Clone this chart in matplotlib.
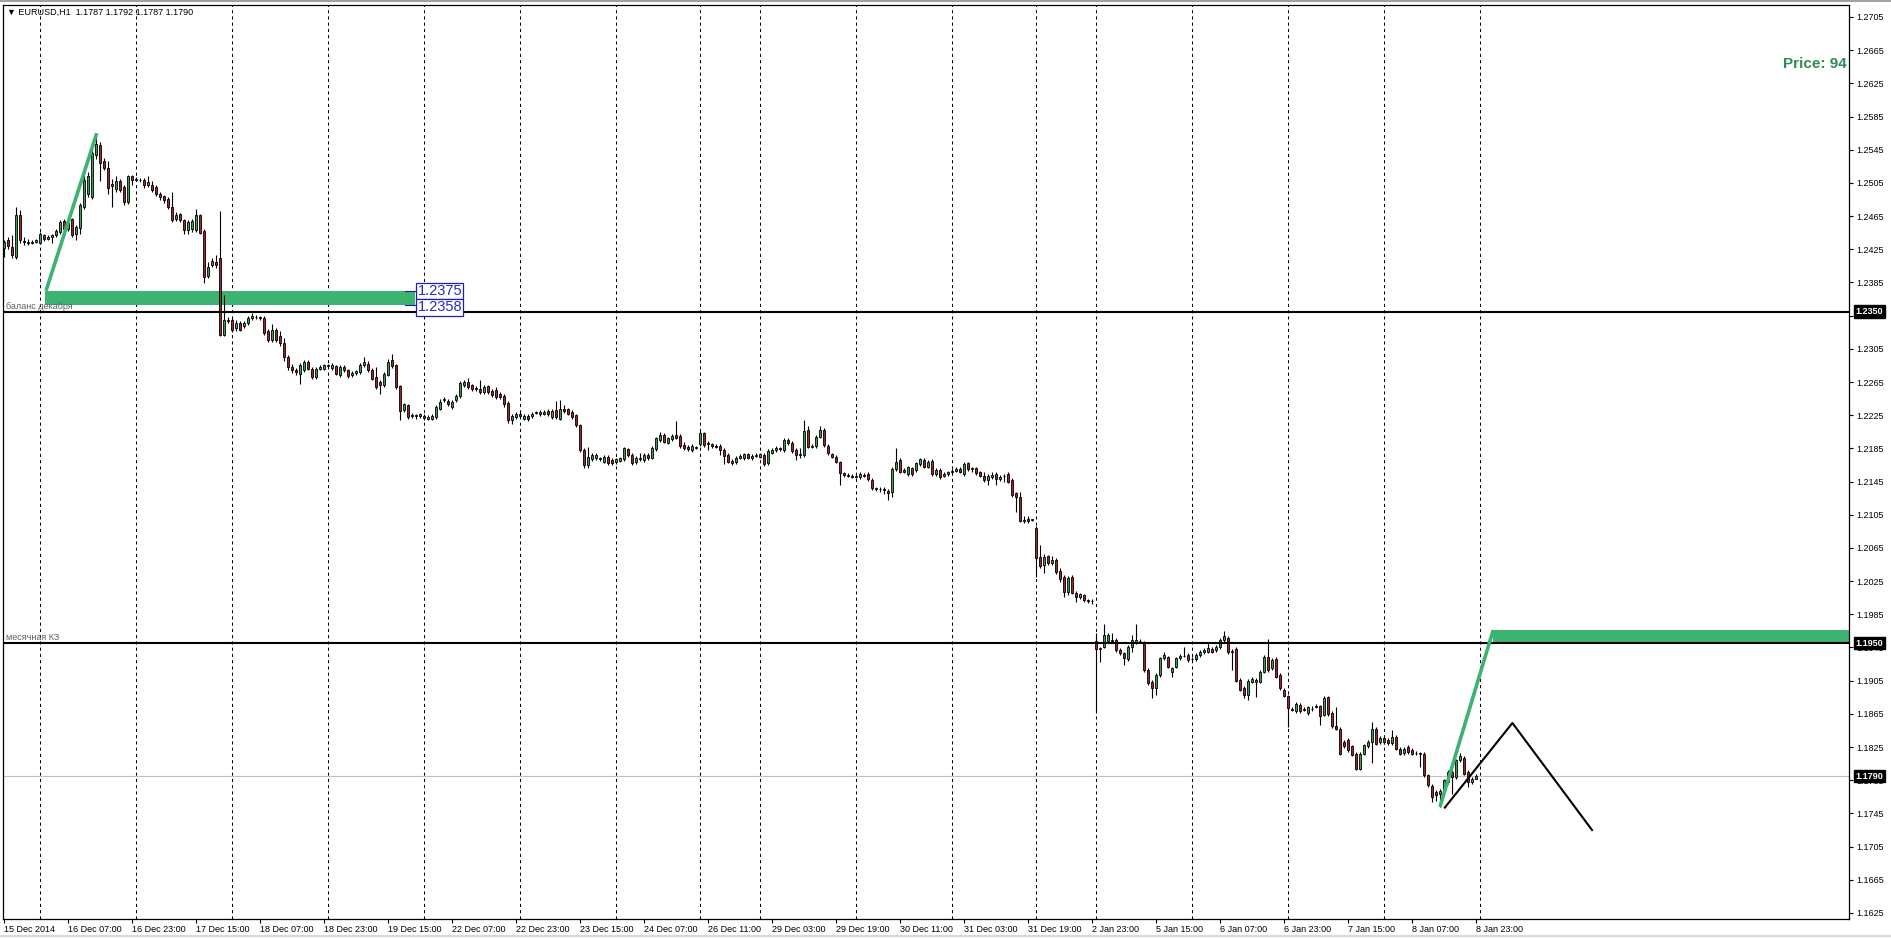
import matplotlib
matplotlib.use('Agg')
import matplotlib.pyplot as plt
from matplotlib.patches import Rectangle
from matplotlib.transforms import blended_transform_factory
import numpy as np

plt.rcParams['font.family'] = ['Liberation Sans', 'DejaVu Sans']

# ---------------- data (EURUSD H1, bar index = position on chart) ----------------
opens = [
1.2426,1.2436,1.2428,1.2416,1.2466,1.2435,1.2434,1.2433,1.2434,1.2433,
1.2442,1.2438,1.2440,1.2442,1.2446,1.2459,1.2449,1.2461,1.2443,1.2451,
1.2476,1.2492,1.2488,1.2539,1.2551,1.2531,1.2523,1.2504,1.2498,1.2507,
1.2500,1.2482,1.2513,1.2509,1.2509,1.2509,1.2502,1.2502,1.2500,1.2492,
1.2489,1.2486,1.2476,1.2461,1.2467,1.2460,1.2448,1.2449,1.2448,1.2466,
1.2447,1.2393,1.2406,1.2410,1.2415,1.2322,1.2340,1.2340,1.2330,1.2336,
1.2332,1.2336,1.2342,1.2343,1.2343,1.2342,1.2326,1.2316,1.2328,1.2320,
1.2312,1.2295,1.2283,1.2279,1.2275,1.2279,1.2289,1.2281,1.2271,1.2281,
1.2281,1.2285,1.2282,1.2284,1.2273,1.2283,1.2279,1.2273,1.2276,1.2277,
1.2285,1.2287,1.2280,1.2271,1.2265,1.2261,1.2274,1.2291,1.2285,1.2260,
1.2231,1.2237,1.2224,1.2225,1.2224,1.2224,1.2221,1.2221,1.2223,1.2233,
1.2243,1.2242,1.2235,1.2243,1.2248,1.2261,1.2265,1.2261,1.2256,1.2257,
1.2253,1.2260,1.2254,1.2255,1.2251,1.2248,1.2240,1.2219,1.2223,1.2227,
1.2221,1.2224,1.2224,1.2228,1.2226,1.2227,1.2230,1.2223,1.2231,1.2221,
1.2233,1.2232,1.2229,1.2225,1.2213,1.2183,1.2165,1.2172,1.2173,1.2172,
1.2169,1.2175,1.2171,1.2168,1.2170,1.2172,1.2184,1.2177,1.2168,1.2172,
1.2171,1.2177,1.2174,1.2184,1.2195,1.2201,1.2192,1.2196,1.2201,1.2200,
1.2189,1.2187,1.2183,1.2186,1.2190,1.2203,1.2191,1.2190,1.2188,1.2188,
1.2183,1.2177,1.2170,1.2168,1.2174,1.2173,1.2178,1.2173,1.2176,1.2175,
1.2177,1.2167,1.2180,1.2183,1.2185,1.2183,1.2195,1.2192,1.2183,1.2177,
1.2177,1.2207,1.2187,1.2188,1.2199,1.2207,1.2188,1.2178,1.2175,1.2168,
1.2155,1.2153,1.2152,1.2151,1.2150,1.2153,1.2154,1.2147,1.2137,1.2136,
1.2136,1.2134,1.2133,1.2160,1.2171,1.2159,1.2154,1.2161,1.2159,1.2166,
1.2171,1.2163,1.2170,1.2154,1.2159,1.2152,1.2154,1.2156,1.2158,1.2160,
1.2154,1.2167,1.2160,1.2161,1.2156,1.2152,1.2147,1.2150,1.2154,1.2148,
1.2152,1.2154,1.2147,1.2131,1.2126,1.2098,1.2100,1.2099,1.2089,1.2054,
1.2045,1.2055,1.2047,1.2051,1.2037,1.2030,1.2012,1.2030,1.2011,1.2006,
1.2008,1.2002,1.2001,1.1953,1.1943,1.1946,1.1953,1.1954,1.1954,1.1942,
1.1938,1.1931,1.1946,1.1951,1.1953,1.1951,1.1918,1.1904,1.1896,1.1912,
1.1932,1.1933,1.1916,1.1922,1.1932,1.1935,1.1936,1.1931,1.1931,1.1936,
1.1939,1.1940,1.1943,1.1942,1.1945,1.1954,1.1957,1.1941,1.1943,1.1906,
1.1896,1.1888,1.1904,1.1903,1.1904,1.1916,1.1933,1.1920,1.1931,1.1912,
1.1894,1.1886,1.1871,1.1868,1.1876,1.1870,1.1866,1.1871,1.1873,1.1874,
1.1864,1.1885,1.1866,1.1850,1.1847,1.1831,1.1834,1.1826,1.1817,1.1799,
1.1817,1.1826,1.1831,1.1847,1.1831,1.1836,1.1834,1.1830,1.1837,1.1823,
1.1818,1.1825,1.1822,1.1818,1.1817,1.1817,1.1791,1.1778,1.1771,1.1769,
1.1772,1.1783,1.1795,1.1789,1.1809,1.1812,1.1795,1.1783,1.1787]

highs = [
1.2436,1.2440,1.2442,1.2476,1.2472,1.2440,1.2437,1.2436,1.2438,1.2446,
1.2444,1.2442,1.2444,1.2449,1.2460,1.2461,1.2462,1.2463,1.2454,1.2481,
1.2517,1.2518,1.2545,1.2561,1.2554,1.2535,1.2531,1.2510,1.2513,1.2510,
1.2503,1.2515,1.2515,1.2512,1.2511,1.2511,1.2513,1.2507,1.2502,1.2494,
1.2491,1.2488,1.2494,1.2470,1.2469,1.2462,1.2460,1.2461,1.2473,1.2468,
1.2449,1.2410,1.2414,1.2418,1.2471,1.2370,1.2343,1.2342,1.2340,1.2338,
1.2338,1.2344,1.2348,1.2346,1.2345,1.2344,1.2329,1.2335,1.2330,1.2327,
1.2318,1.2298,1.2287,1.2282,1.2288,1.2292,1.2291,1.2283,1.2283,1.2286,
1.2287,1.2287,1.2288,1.2286,1.2285,1.2285,1.2281,1.2278,1.2280,1.2288,
1.2295,1.2290,1.2282,1.2283,1.2267,1.2277,1.2293,1.2299,1.2287,1.2262,
1.2240,1.2239,1.2228,1.2227,1.2228,1.2226,1.2225,1.2226,1.2237,1.2245,
1.2247,1.2244,1.2243,1.2250,1.2266,1.2268,1.2270,1.2263,1.2260,1.2267,
1.2262,1.2262,1.2256,1.2259,1.2253,1.2250,1.2242,1.2226,1.2229,1.2229,
1.2226,1.2226,1.2229,1.2230,1.2231,1.2231,1.2232,1.2232,1.2242,1.2243,
1.2237,1.2234,1.2231,1.2227,1.2215,1.2185,1.2187,1.2179,1.2179,1.2175,
1.2177,1.2177,1.2173,1.2174,1.2175,1.2187,1.2186,1.2179,1.2176,1.2180,
1.2179,1.2179,1.2188,1.2199,1.2205,1.2203,1.2199,1.2202,1.2218,1.2202,
1.2193,1.2189,1.2190,1.2188,1.2206,1.2205,1.2194,1.2192,1.2190,1.2190,
1.2185,1.2179,1.2172,1.2176,1.2178,1.2180,1.2180,1.2178,1.2179,1.2180,
1.2179,1.2184,1.2185,1.2188,1.2187,1.2197,1.2197,1.2194,1.2185,1.2186,
1.2219,1.2212,1.2190,1.2201,1.2212,1.2209,1.2190,1.2180,1.2177,1.2170,
1.2157,1.2155,1.2154,1.2154,1.2156,1.2155,1.2156,1.2149,1.2139,1.2138,
1.2138,1.2136,1.2162,1.2185,1.2173,1.2161,1.2164,1.2163,1.2169,1.2174,
1.2173,1.2171,1.2172,1.2161,1.2161,1.2156,1.2158,1.2160,1.2162,1.2162,
1.2168,1.2169,1.2163,1.2163,1.2158,1.2157,1.2154,1.2157,1.2156,1.2153,
1.2154,1.2156,1.2149,1.2133,1.2133,1.2103,1.2103,1.2100,1.2091,1.2068,
1.2058,1.2057,1.2055,1.2053,1.2041,1.2032,1.2031,1.2032,1.2013,1.2011,
1.2010,1.2004,1.2003,1.1962,1.1946,1.1973,1.1962,1.1962,1.1956,1.1944,
1.1940,1.1948,1.1960,1.1973,1.1955,1.1953,1.1920,1.1906,1.1914,1.1934,
1.1940,1.1935,1.1922,1.1934,1.1937,1.1946,1.1938,1.1933,1.1938,1.1942,
1.1944,1.1950,1.1945,1.1948,1.1956,1.1965,1.1959,1.1943,1.1945,1.1908,
1.1898,1.1907,1.1909,1.1908,1.1918,1.1936,1.1955,1.1932,1.1933,1.1914,
1.1896,1.1888,1.1873,1.1879,1.1878,1.1873,1.1875,1.1874,1.1877,1.1876,
1.1887,1.1887,1.1868,1.1873,1.1849,1.1833,1.1836,1.1828,1.1819,1.1819,
1.1829,1.1833,1.1855,1.1849,1.1838,1.1838,1.1836,1.1845,1.1839,1.1825,
1.1825,1.1827,1.1824,1.1820,1.1819,1.1819,1.1793,1.1780,1.1773,1.1774,
1.1787,1.1797,1.1797,1.1811,1.1818,1.1814,1.1797,1.1789,1.1792]

lows = [
1.2416,1.2425,1.2414,1.2413,1.2432,1.2430,1.2430,1.2431,1.2432,1.2431,
1.2435,1.2436,1.2432,1.2440,1.2444,1.2448,1.2447,1.2440,1.2436,1.2443,
1.2474,1.2488,1.2486,1.2534,1.2507,1.2520,1.2492,1.2476,1.2494,1.2494,
1.2478,1.2480,1.2503,1.2507,1.2506,1.2499,1.2500,1.2494,1.2489,1.2485,
1.2481,1.2474,1.2458,1.2459,1.2458,1.2444,1.2444,1.2446,1.2446,1.2443,
1.2384,1.2390,1.2404,1.2403,1.2320,1.2320,1.2336,1.2325,1.2327,1.2326,
1.2330,1.2334,1.2340,1.2341,1.2340,1.2322,1.2313,1.2313,1.2313,1.2309,
1.2290,1.2279,1.2276,1.2273,1.2263,1.2277,1.2279,1.2269,1.2269,1.2279,
1.2279,1.2282,1.2280,1.2273,1.2271,1.2277,1.2270,1.2271,1.2274,1.2275,
1.2283,1.2277,1.2267,1.2257,1.2250,1.2259,1.2272,1.2282,1.2257,1.2219,
1.2229,1.2221,1.2222,1.2221,1.2222,1.2219,1.2219,1.2219,1.2221,1.2231,
1.2241,1.2236,1.2233,1.2241,1.2246,1.2259,1.2257,1.2254,1.2254,1.2251,
1.2251,1.2251,1.2247,1.2245,1.2245,1.2235,1.2216,1.2215,1.2221,1.2222,
1.2219,1.2218,1.2222,1.2226,1.2224,1.2225,1.2224,1.2221,1.2221,1.2219,
1.2228,1.2225,1.2221,1.2211,1.2181,1.2161,1.2161,1.2170,1.2171,1.2170,
1.2167,1.2165,1.2165,1.2166,1.2168,1.2170,1.2175,1.2165,1.2166,1.2170,
1.2169,1.2171,1.2172,1.2182,1.2193,1.2191,1.2190,1.2194,1.2196,1.2186,
1.2183,1.2182,1.2181,1.2184,1.2188,1.2187,1.2183,1.2186,1.2185,1.2177,
1.2166,1.2167,1.2165,1.2166,1.2172,1.2171,1.2172,1.2171,1.2175,1.2173,
1.2164,1.2165,1.2178,1.2181,1.2182,1.2181,1.2189,1.2180,1.2171,1.2174,
1.2175,1.2185,1.2185,1.2186,1.2197,1.2187,1.2177,1.2173,1.2167,1.2141,
1.2151,1.2150,1.2149,1.2149,1.2148,1.2150,1.2146,1.2135,1.2134,1.2133,
1.2130,1.2123,1.2127,1.2158,1.2155,1.2155,1.2152,1.2152,1.2157,1.2164,
1.2161,1.2161,1.2152,1.2152,1.2148,1.2150,1.2152,1.2154,1.2156,1.2155,
1.2152,1.2158,1.2157,1.2153,1.2150,1.2145,1.2141,1.2148,1.2141,1.2146,
1.2145,1.2143,1.2127,1.2108,1.2096,1.2095,1.2095,1.2098,1.2030,1.2041,
1.2035,1.2045,1.2045,1.2034,1.2024,1.2006,1.2008,1.2009,1.2000,1.2004,
1.2000,1.1999,1.1998,1.1866,1.1928,1.1944,1.1951,1.1951,1.1940,1.1936,
1.1924,1.1929,1.1940,1.1949,1.1951,1.1916,1.1900,1.1884,1.1888,1.1910,
1.1930,1.1920,1.1910,1.1920,1.1930,1.1933,1.1928,1.1929,1.1929,1.1934,
1.1937,1.1938,1.1938,1.1940,1.1943,1.1952,1.1937,1.1918,1.1903,1.1892,
1.1884,1.1882,1.1902,1.1885,1.1902,1.1914,1.1916,1.1918,1.1908,1.1894,
1.1885,1.1849,1.1868,1.1866,1.1866,1.1868,1.1864,1.1869,1.1872,1.1852,
1.1862,1.1863,1.1848,1.1845,1.1815,1.1824,1.1819,1.1814,1.1797,1.1797,
1.1815,1.1824,1.1806,1.1827,1.1829,1.1829,1.1828,1.1828,1.1821,1.1815,
1.1816,1.1817,1.1815,1.1816,1.1801,1.1789,1.1777,1.1759,1.1760,1.1753,
1.1770,1.1781,1.1769,1.1787,1.1807,1.1791,1.1777,1.1781,1.1787]

closes = [
1.2434,1.2429,1.2418,1.2466,1.2436,1.2434,1.2433,1.2434,1.2436,1.2443,
1.2437,1.2440,1.2442,1.2447,1.2458,1.2450,1.2460,1.2442,1.2452,1.2478,
1.2509,1.2513,1.2541,1.2552,1.2529,1.2523,1.2499,1.2501,1.2507,1.2496,
1.2482,1.2513,1.2508,1.2510,1.2508,1.2502,1.2506,1.2497,1.2492,1.2488,
1.2485,1.2476,1.2460,1.2466,1.2460,1.2448,1.2458,1.2459,1.2466,1.2445,
1.2392,1.2404,1.2411,1.2406,1.2322,1.2340,1.2339,1.2328,1.2336,1.2328,
1.2336,1.2342,1.2344,1.2343,1.2342,1.2324,1.2316,1.2328,1.2316,1.2312,
1.2295,1.2283,1.2279,1.2277,1.2285,1.2289,1.2281,1.2271,1.2281,1.2283,
1.2285,1.2284,1.2286,1.2275,1.2283,1.2279,1.2272,1.2276,1.2278,1.2286,
1.2289,1.2279,1.2269,1.2259,1.2261,1.2275,1.2289,1.2284,1.2259,1.2230,
1.2238,1.2223,1.2225,1.2224,1.2226,1.2222,1.2223,1.2224,1.2235,1.2241,
1.2244,1.2238,1.2241,1.2248,1.2264,1.2265,1.2259,1.2257,1.2258,1.2253,
1.2259,1.2253,1.2249,1.2247,1.2247,1.2238,1.2219,1.2224,1.2227,1.2224,
1.2224,1.2220,1.2227,1.2228,1.2229,1.2229,1.2226,1.2230,1.2223,1.2232,
1.2230,1.2227,1.2223,1.2213,1.2183,1.2165,1.2175,1.2177,1.2177,1.2173,
1.2175,1.2167,1.2167,1.2172,1.2173,1.2185,1.2177,1.2167,1.2174,1.2173,
1.2177,1.2173,1.2186,1.2197,1.2201,1.2193,1.2197,1.2200,1.2198,1.2188,
1.2185,1.2184,1.2188,1.2187,1.2204,1.2189,1.2190,1.2188,1.2187,1.2183,
1.2176,1.2169,1.2167,1.2174,1.2176,1.2178,1.2174,1.2176,1.2177,1.2178,
1.2166,1.2182,1.2183,1.2186,1.2184,1.2195,1.2191,1.2182,1.2177,1.2178,
1.2206,1.2187,1.2188,1.2199,1.2207,1.2189,1.2179,1.2175,1.2169,1.2155,
1.2153,1.2152,1.2151,1.2152,1.2154,1.2152,1.2148,1.2137,1.2136,1.2136,
1.2135,1.2131,1.2160,1.2169,1.2157,1.2157,1.2162,1.2154,1.2167,1.2172,
1.2163,1.2169,1.2154,1.2159,1.2150,1.2154,1.2156,1.2158,1.2160,1.2157,
1.2166,1.2160,1.2161,1.2155,1.2152,1.2147,1.2152,1.2153,1.2148,1.2151,
1.2152,1.2145,1.2129,1.2126,1.2098,1.2099,1.2097,1.2099,1.2053,1.2043,
1.2054,1.2047,1.2051,1.2036,1.2028,1.2012,1.2029,1.2011,1.2006,1.2009,
1.2002,1.2001,1.2001,1.1943,1.1944,1.1960,1.1960,1.1953,1.1942,1.1938,
1.1932,1.1946,1.1954,1.1954,1.1953,1.1918,1.1902,1.1896,1.1912,1.1932,
1.1936,1.1922,1.1920,1.1932,1.1935,1.1935,1.1930,1.1931,1.1936,1.1940,
1.1942,1.1944,1.1940,1.1946,1.1954,1.1959,1.1939,1.1940,1.1905,1.1894,
1.1888,1.1905,1.1907,1.1906,1.1916,1.1934,1.1918,1.1930,1.1910,1.1896,
1.1887,1.1872,1.1870,1.1877,1.1868,1.1871,1.1873,1.1871,1.1874,1.1863,
1.1884,1.1865,1.1850,1.1847,1.1817,1.1826,1.1821,1.1816,1.1799,1.1817,
1.1827,1.1831,1.1847,1.1829,1.1836,1.1831,1.1830,1.1837,1.1823,1.1817,
1.1823,1.1819,1.1817,1.1818,1.1817,1.1791,1.1779,1.1765,1.1767,1.1772,
1.1785,1.1795,1.1789,1.1809,1.1814,1.1793,1.1783,1.1787,1.1790]

time_labels = ['15 Dec 2014', '16 Dec 07:00', '16 Dec 23:00', '17 Dec 15:00', '18 Dec 07:00',
               '18 Dec 23:00', '19 Dec 15:00', '22 Dec 07:00', '22 Dec 23:00', '23 Dec 15:00',
               '24 Dec 07:00', '26 Dec 11:00', '29 Dec 03:00', '29 Dec 19:00', '30 Dec 11:00',
               '31 Dec 03:00', '31 Dec 19:00', '2 Jan 23:00', '5 Jan 15:00', '6 Jan 07:00',
               '6 Jan 23:00', '7 Jan 15:00', '8 Jan 07:00', '8 Jan 23:00']
label_every = 16                      # one time label every 16 bars
day_separator_bars = [9, 33, 57, 81, 105, 129, 153, 174, 189, 213, 237, 258, 273, 297, 321, 345, 369]

level_prices = [1.2350, 1.1950]
level_names = ['баланс декабря', 'месячная КЗ']
bid_price = 1.1790

zone1_bars = [10.25, 102.75]
zone1_prices = [1.2358, 1.2375]
zone2_bar = 372.3
zone2_prices = [1.1950, 1.1966]
trend1_bars, trend1_prices = [10.5, 23.2], [1.2375, 1.2565]
trend2_bars, trend2_prices = [359.0, 372.3], [1.1753, 1.1966]
zig_bars, zig_prices = [360.2, 377.1, 397.0], [1.1752, 1.1854, 1.1725]

# ---------------- figure ----------------
W, H = 1891, 938
fig = plt.figure(figsize=(W / 100, H / 100), dpi=100)
fig.patch.set_facecolor('white')
L, R, T, B = 3, 1849, 5, 919
ax = fig.add_axes([L / W, 1 - B / H, (R - L) / W, (B - T) / H])
ax.set_facecolor('white')

x = np.arange(len(closes))
o = np.array(opens); h = np.array(highs); lo = np.array(lows); c = np.array(closes)

ax.set_xlim(-0.25, 461.25)
ax.set_ylim(1.161773, 1.271946)

# grid (day separators)
for b in day_separator_bars:
    ax.axvline(b, color='black', lw=0.75, ls=(0, (3, 3)), zorder=1)

# zones
ax.add_patch(Rectangle((zone1_bars[0], zone1_prices[0]), zone1_bars[1] - zone1_bars[0],
                       zone1_prices[1] - zone1_prices[0], facecolor='#3CB371', edgecolor='none', zorder=2))
ax.add_patch(Rectangle((zone2_bar, zone2_prices[0]), 500 - zone2_bar,
                       zone2_prices[1] - zone2_prices[0], facecolor='#3CB371', edgecolor='none', zorder=2))

# candles
up = c >= o
ax.vlines(x, lo, h, color='black', lw=0.8, zorder=3)
body_h = np.maximum(np.abs(c - o), 0.00003)
ax.bar(x, body_h, bottom=np.minimum(o, c), width=0.72,
       color=np.where(up, '#3E9E4E', '#A8222C'), edgecolor='black', linewidth=0.6, zorder=4)

# levels
for p in level_prices:
    ax.axhline(p, color='black', lw=1.5, zorder=5)
ax.axhline(bid_price, color='#C0C0C0', lw=0.8, zorder=2.5)
for p, name in zip(level_prices, level_names):
    ax.text(0.5, p + 0.00012, name, fontsize=6.5, color='#606060', ha='left', va='bottom', zorder=6)

# trend lines and zigzag
ax.plot(trend1_bars, trend1_prices, color='#3CB371', lw=2.6, solid_capstyle='butt', zorder=6)
ax.plot(trend2_bars, trend2_prices, color='#3CB371', lw=2.6, solid_capstyle='butt', zorder=6)
ax.plot(zig_bars, zig_prices, color='black', lw=1.5, zorder=6)

# price labels of zone 1
for p, yc in zip(zone1_prices[::-1], [zone1_prices[1], zone1_prices[0] - 0.0003]):
    ax.plot([zone1_bars[1] - 2.5, zone1_bars[1]], [p, p], color='#1E1EB4', lw=0.8, zorder=6)
    ax.text(zone1_bars[1] + 0.6, yc, '%.4f' % p, fontsize=10.5, color='#2828D0', ha='left', va='center',
            zorder=7, bbox=dict(boxstyle='square,pad=0.08', fc='white', ec='#1E1EB4', lw=0.9))

# axes styling
for s in ax.spines.values():
    s.set_color('black'); s.set_linewidth(0.9)
yt = np.round(np.arange(1.1625, 1.2706, 0.0040), 4)
ax.set_yticks(yt)
ax.set_yticklabels(['%.4f' % v for v in yt])
ax.yaxis.tick_right()
ax.tick_params(axis='y', length=3, width=0.8, pad=2, labelsize=6.5, direction='out')
ax.set_xticks(np.arange(len(time_labels)) * label_every)
ax.set_xticklabels(time_labels)
ax.tick_params(axis='x', length=3, width=0.8, pad=1.5, labelsize=6.5, direction='out')
for lab in ax.get_xticklabels():
    lab.set_ha('left')

# black price boxes on the right scale
tr = blended_transform_factory(ax.transAxes, ax.transData)
for p in level_prices + [bid_price]:
    ax.text(1.0035, p, '%.4f' % p, transform=tr, fontsize=6.5, color='white', fontweight='bold',
            ha='left', va='center', zorder=10, clip_on=False,
            bbox=dict(boxstyle='square,pad=0.18', fc='black', ec='black'))

# header and info text
ax.text(0.0022, 0.9916, '▼ EURUSD,H1  1.1787 1.1792 1.1787 1.1790', transform=ax.transAxes,
        fontsize=6.5, color='black', ha='left', va='center', zorder=10)
ax.text(0.9989, 0.9355, 'Price: 94', transform=ax.transAxes, fontsize=11, fontweight='bold',
        color='#2E8B57', ha='right', va='center', zorder=10)

# window border lines
fig.add_artist(plt.Line2D([0, 1], [0.999, 0.999], transform=fig.transFigure, color='#A0A0A0', lw=1.5))
fig.add_artist(plt.Line2D([0, 1], [0.002, 0.002], transform=fig.transFigure, color='#D8D8D8', lw=1.5))

fig.savefig('out.png', dpi=100)
